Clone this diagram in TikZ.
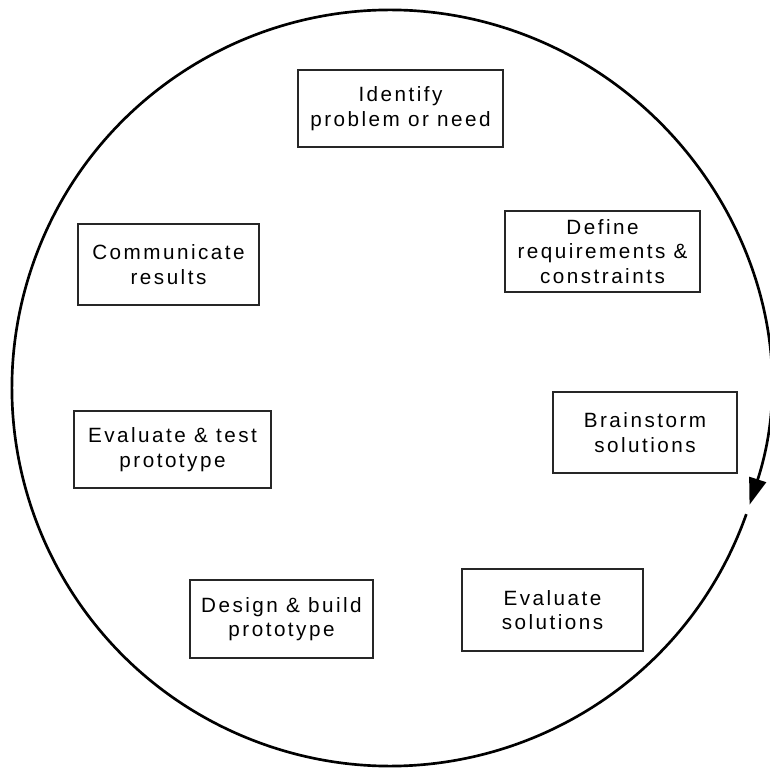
\documentclass[tikz,border=0pt]{standalone}
\usepackage{fontspec}
\setmainfont{Liberation Sans}[LetterSpace=12]
\usetikzlibrary{arrows.meta}
\begin{document}
\begin{tikzpicture}
[
    x=0.75pt, y=0.75pt,
    stage/.style={draw=black!85, line width=1.3pt, rectangle, inner sep=0pt,
        align=center, font=\fontsize{15.5pt}{18.5pt}\selectfont},
    cycle line/.style={line width=2pt, -{Triangle[length=20pt, width=13pt]}}
]
    \useasboundingbox (0,0) rectangle (770,768);
    \coordinate (centre) at (390,380);
    % the stages, clockwise from the top
    \node [stage, minimum width=153.75pt, minimum height=57.75pt] (identify) at (400.5,659.5) {Identify\\problem or need};
    \node [stage, minimum width=146.25pt, minimum height=60.75pt] (define) at (602.5,516.5) {Define\\requirements \&\\constraints};
    \node [stage, minimum width=138pt, minimum height=60.75pt] (brainstorm) at (645,335.5) {Brainstorm\\solutions};
    \node [stage, minimum width=135.75pt, minimum height=61.5pt] (evalsol) at (552.5,158) {Evaluate\\solutions};
    \node [stage, minimum width=137.25pt, minimum height=58.5pt] (design) at (281.5,149) {Design \& build\\prototype};
    \node [stage, minimum width=147.75pt, minimum height=57.75pt] (evaltest) at (172.5,318.5) {Evaluate \& test\\prototype};
    \node [stage, minimum width=135.75pt, minimum height=60.75pt] (communicate) at (168.5,503.5) {Communicate\\results};
    % the ring round them
    \draw [cycle line] (centre) ++(-19.5:283.5pt) arc [start angle=-19.5, end angle=-378, radius=283.5pt];
\end{tikzpicture}
\end{document}
